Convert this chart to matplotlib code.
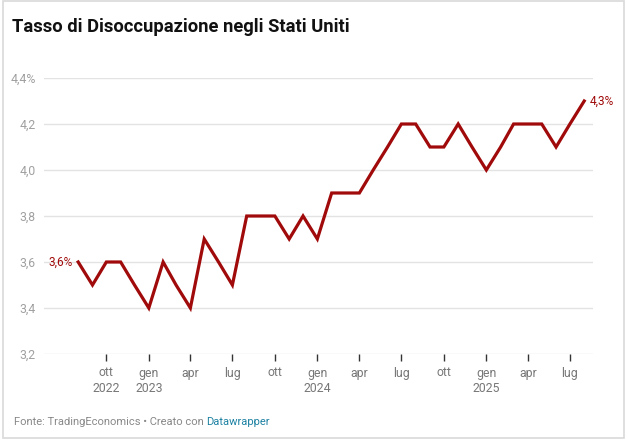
import pandas as pd
import matplotlib
matplotlib.use('Agg')
from matplotlib import rcParams
rcParams['font.family'] = ['Roboto', 'DejaVu Sans']
import matplotlib.pyplot as plt
from matplotlib.patches import Rectangle

# US unemployment rate, monthly, Aug 2022 - Aug 2025
start_month = '2022-08-01'
values = [3.6, 3.5, 3.6, 3.6, 3.5,
          3.4, 3.6, 3.5, 3.4, 3.7, 3.6, 3.5, 3.8, 3.8, 3.8, 3.7, 3.8,
          3.7, 3.9, 3.9, 3.9, 4.0, 4.1, 4.2, 4.2, 4.1, 4.1, 4.2, 4.1,
          4.0, 4.1, 4.2, 4.2, 4.2, 4.1, 4.2, 4.3]
dates = pd.date_range(start_month, periods=len(values), freq='MS')

tick_dates = ['2022-10-01', '2023-01-01', '2023-04-01', '2023-07-01',
              '2023-10-01', '2024-01-01', '2024-04-01', '2024-07-01',
              '2024-10-01', '2025-01-01', '2025-04-01', '2025-07-01']
tick_labels = ['ott\n2022', 'gen\n2023', 'apr', 'lug', 'ott', 'gen\n2024',
               'apr', 'lug', 'ott', 'gen\n2025', 'apr', 'lug']
y_ticks = [3.2, 3.4, 3.6, 3.8, 4.0, 4.2, 4.4]
y_labels = ['3,2', '3,4', '3,6', '3,8', '4,0', '4,2', '4,4%']

red = '#a00a0a'

W, H = 628, 442
fig = plt.figure(figsize=(W / 100, H / 100), dpi=100)
ax = fig.add_axes([44 / W, 1 - 354 / H, (593 - 44) / W, (354 - 78) / H])

ax.plot(dates, values, color=red, lw=2.3, solid_joinstyle='miter', zorder=3)

ax.set_ylim(3.2, 4.4)
ax.set_xlim(pd.Timestamp('2022-05-19'), pd.Timestamp('2025-08-20'))
ax.set_yticks(y_ticks)
ax.set_yticklabels(y_labels)
ax.set_xticks([pd.Timestamp(d) for d in tick_dates])
ax.set_xticklabels(tick_labels, linespacing=1.2)

for s in ax.spines.values():
    s.set_visible(False)
ax.grid(axis='y', color='#e3e3e3', lw=1)
ax.set_axisbelow(True)
ax.tick_params(axis='y', length=0, pad=6, labelsize=8.8, labelcolor='#a0a0a0')
ax.tick_params(axis='x', length=5, width=1, color='#333333', pad=4,
               labelsize=8.8, labelcolor='#777777', direction='out')

ax.annotate('3,6%', (dates[0], values[0]), xytext=(-4, 0), textcoords='offset points',
            ha='right', va='center', color=red, fontsize=8.6)
ax.annotate('4,3%', (dates[-1], values[-1]), xytext=(4, 0), textcoords='offset points',
            ha='left', va='center', color=red, fontsize=8.6)

fig.text(12 / W, 1 - 27 / H, 'Tasso di Disoccupazione negli Stati Uniti',
         fontsize=13.2, fontweight='bold', color='#111111', va='center', ha='left')

t1 = fig.text(14 / W, 1 - 422 / H, 'Fonte: TradingEconomics • Creato con ',
              fontsize=8, color='#888888', va='center', ha='left')
fig.canvas.draw()
bb = t1.get_window_extent()
fig.text(bb.x1 / W, 1 - 422 / H, 'Datawrapper', fontsize=8, color='#1d81a2',
         va='center', ha='left')

fig.patches.append(Rectangle((3 / W, 4 / H), 621 / W, 437 / H, transform=fig.transFigure,
                             fill=False, edgecolor='#d9d9d9', lw=1.2))

fig.savefig('out.png', dpi=100)
